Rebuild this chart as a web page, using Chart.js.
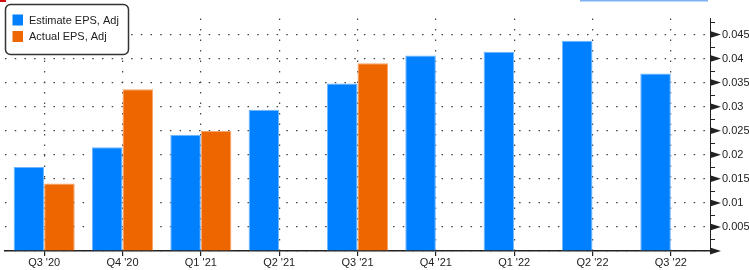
<!DOCTYPE html>
<html>
<head>
<meta charset="utf-8">
<script src="https://cdn.jsdelivr.net/npm/chart.js@4"></script>
<style>
  html, body { margin: 0; padding: 0; background: #fff; }
  #wrap { position: relative; width: 749px; height: 270px; }
</style>
</head>
<body>
<div id="wrap"><canvas id="epsChart"></canvas></div>
<script>
// data
const quarters = ["Q3 '20", "Q4 '20", "Q1 '21", "Q2 '21", "Q3 '21", "Q4 '21", "Q1 '22", "Q2 '22", "Q3 '22"];
const estimateEps = [0.01745, 0.02156, 0.02415, 0.02936, 0.03483, 0.04062, 0.04139, 0.04371, 0.03689];
const actualEps = [0.01404, 0.03361, 0.02492, null, 0.03902, null, null, null, null];
const seriesNames = ['Estimate EPS, Adj', 'Actual EPS, Adj'];
const yStep = 0.005;

const FONT = "'Liberation Sans', Arial, sans-serif";
const INK = '#222';

// legend drawn inside the plot, top-left, like the terminal screenshot
const boxLegend = {
    id: 'boxLegend',
    afterDraw(chart) {
        const ctx = chart.ctx;
        const x = 5.5, y = 4.5, w = 123, h = 50;
        ctx.save();
        ctx.fillStyle = '#fff';
        ctx.strokeStyle = '#333';
        ctx.lineWidth = 1.5;
        ctx.beginPath();
        ctx.roundRect(x, y, w, h, 5);
        ctx.fill();
        ctx.stroke();
        ctx.font = '11px ' + FONT;
        ctx.textBaseline = 'middle';
        chart.data.datasets.forEach((ds, i) => {
            const cy = 20 + i * 16.5;
            ctx.fillStyle = ds.backgroundColor;
            ctx.fillRect(12.5, cy - 5.5, 10.5, 11);
            ctx.fillStyle = INK;
            ctx.fillText(ds.label, 29, cy + 0.5);
        });
        ctx.restore();
    }
};

// right axis: arrow heads on major ticks, short minor ticks in between
const axisMarks = {
    id: 'axisMarks',
    afterDraw(chart) {
        const ctx = chart.ctx;
        const ys = chart.scales.y;
        const ax = chart.chartArea.right;
        ctx.save();
        ctx.fillStyle = INK;
        ctx.strokeStyle = INK;
        ctx.lineWidth = 1;
        ys.ticks.forEach(t => {
            const py = ys.getPixelForValue(t.value);
            ctx.beginPath();
            ctx.moveTo(ax, py - 3.5);
            ctx.lineTo(ax + 11, py);
            ctx.lineTo(ax, py + 3.5);
            ctx.closePath();
            ctx.fill();
            const my = ys.getPixelForValue(t.value + yStep / 2);
            if (my >= chart.chartArea.top) {
                ctx.beginPath();
                ctx.moveTo(ax, Math.round(my) + 0.5);
                ctx.lineTo(ax + 5, Math.round(my) + 0.5);
                ctx.stroke();
            }
        });
        // screenshot leftovers: selection line on top and red corner
        ctx.fillStyle = '#7fb2f0';
        ctx.fillRect(580, 0, 128, 1.5);
        ctx.fillStyle = '#d01010';
        ctx.fillRect(0, 0, 6, 2);
        ctx.restore();
    }
};

const ctx = document.getElementById('epsChart').getContext('2d');
Chart.defaults.font.family = FONT;
Chart.defaults.font.size = 11;
Chart.defaults.color = INK;

new Chart(ctx, {
    type: 'bar',
    data: {
        labels: quarters,
        datasets: [
            {
                label: seriesNames[0],
                data: estimateEps,
                backgroundColor: '#0080ff',
                borderColor: '#6fb6ff',
                borderWidth: 1
            },
            {
                label: seriesNames[1],
                data: actualEps,
                backgroundColor: '#ee6600',
                borderColor: '#f6a46a',
                borderWidth: 1
            }
        ]
    },
    options: {
        responsive: true,
        maintainAspectRatio: false,
        animation: false,
        events: [],
        layout: { padding: { left: 5, top: 0, right: 0, bottom: 0 } },
        datasets: { bar: { categoryPercentage: 0.78, barPercentage: 1.0 } },
        scales: {
            x: {
                offset: true,
                grid: {
                    offset: false,
                    color: '#444',
                    lineWidth: 1.2,
                    drawTicks: true,
                    tickLength: 5,
                    tickColor: INK,
                    tickBorderDash: []
                },
                // in v4 border.dash styles the grid lines
                border: { display: true, color: INK, width: 1.5, dash: [1.5, 9] },
                ticks: { padding: 0, color: INK, maxRotation: 0, autoSkip: false },
                afterFit(scale) { scale.height = 19; }
            },
            y: {
                position: 'right',
                min: 0,
                max: 0.0483,
                grid: {
                    color: '#444',
                    lineWidth: 1.2,
                    drawTicks: false
                },
                border: { display: true, color: INK, width: 1, dash: [1.5, 8.2] },
                ticks: {
                    stepSize: yStep,
                    padding: 12,
                    color: INK,
                    callback: v => v === 0 ? '' : String(+v.toFixed(3))
                },
                afterBuildTicks(scale) {
                    scale.ticks = scale.ticks.filter(t =>
                        Math.abs(t.value / yStep - Math.round(t.value / yStep)) < 1e-6);
                },
                afterFit(scale) { scale.width = 39; }
            }
        },
        plugins: {
            legend: { display: false },
            tooltip: { enabled: false }
        }
    },
    plugins: [boxLegend, axisMarks]
});
</script>
</body>
</html>
